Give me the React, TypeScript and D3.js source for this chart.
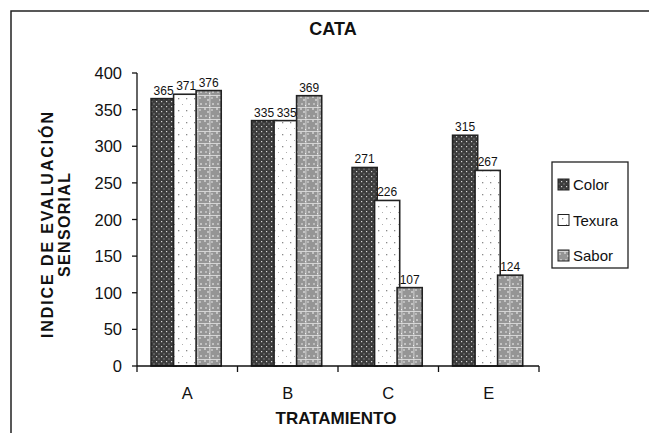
import React from "react";
import * as d3 from "d3";

const categories = ["A", "B", "C", "E"];
const seriesNames = ["Color", "Texura", "Sabor"];
const colorValues = [365, 335, 271, 315];
const texuraValues = [371, 335, 226, 267];
const saborValues = [376, 369, 107, 124];
const yTicks = [0, 50, 100, 150, 200, 250, 300, 350, 400];

const seriesValues = [colorValues, texuraValues, saborValues];
const patternIds = ["patColor", "patTexura", "patSabor"];

const W = 649;
const H = 433;
const plotLeft = 137;
const plotRight = 539;
const plotTop = 73;
const plotBottom = 366;

export default function App() {
  const x = d3.scaleBand<string>().domain(categories).range([plotLeft, plotRight]).padding(0);
  const y = d3.scaleLinear().domain([0, 400]).range([plotBottom, plotTop]);
  const bw = x.bandwidth();
  const barW = bw * 0.25;
  const step = bw * 0.224;
  const offset = bw * 0.14;
  const font = "'Liberation Sans', Arial, sans-serif";

  return (
    <svg width={W} height={H} style={{ position: "absolute", left: 0, top: 0 }} fontFamily={font}>
      <defs>
        <pattern id="patColor" width={5} height={5} patternUnits="userSpaceOnUse">
          <rect width={5} height={5} fill="#3c3c3c" />
          <rect x={1} y={1} width={1.2} height={1.2} fill="#d8d8d8" />
          <rect x={3.5} y={3.5} width={1} height={1} fill="#b5b5b5" />
        </pattern>
        <pattern id="patTexura" width={8} height={12} patternUnits="userSpaceOnUse">
          <rect width={8} height={12} fill="#ffffff" />
          <rect x={2} y={2} width={1.3} height={1.3} fill="#8a8a8a" />
          <rect x={6} y={8} width={1} height={1} fill="#b0b0b0" />
        </pattern>
        <pattern id="patSabor" width={12} height={12} patternUnits="userSpaceOnUse">
          <rect width={12} height={12} fill="#959595" />
          <rect x={0} y={0} width={2} height={2} fill="#c4c4c4" />
          <rect x={3} y={3} width={2} height={2} fill="#c4c4c4" />
          <rect x={7} y={1} width={2} height={2} fill="#bcbcbc" />
          <rect x={1} y={7} width={2} height={2} fill="#bcbcbc" />
          <rect x={8} y={7} width={2} height={2} fill="#c4c4c4" />
          <rect x={5} y={9} width={1} height={1} fill="#ffffff" />
          <rect x={0} y={11} width={12} height={0.8} fill="#e6e6e6" />
          <rect x={5.5} y={0} width={0.8} height={12} fill="#e0e0e0" />
        </pattern>
      </defs>
      <rect x={0} y={0} width={W} height={H} fill="#ffffff" />
      {/* outer chart border */}
      <rect x={11} y={11} width={W + 10} height={H + 10} fill="none" stroke="#222" strokeWidth={1.5} />

      <text x={333} y={35} textAnchor="middle" fontSize={18} fontWeight="bold" fill="#111">CATA</text>

      {/* bars */}
      {categories.map((c, ci) => (
        <g key={c}>
          {seriesValues.map((vals, si) => {
            const bx = (x(c) as number) + offset + si * step;
            const by = y(vals[ci]);
            return (
              <g key={si}>
                <rect x={bx} y={by} width={barW} height={plotBottom - by} fill={`url(#${patternIds[si]})`} stroke="#222" strokeWidth={1.6} />
                <text x={bx + barW / 2} y={by - 4} textAnchor="middle" fontSize={12} fill="#111">{vals[ci]}</text>
              </g>
            );
          })}
        </g>
      ))}

      {/* y axis */}
      <line x1={plotLeft} x2={plotLeft} y1={plotTop} y2={plotBottom} stroke="#111" strokeWidth={1.3} />
      {yTicks.map((t) => (
        <g key={t}>
          <line x1={plotLeft - 5} x2={plotLeft} y1={y(t)} y2={y(t)} stroke="#111" strokeWidth={1.3} />
          <text x={plotLeft - 15} y={y(t) + 6} textAnchor="end" fontSize={16.5} fill="#111">{t}</text>
        </g>
      ))}

      {/* x axis */}
      <line x1={plotLeft} x2={plotRight} y1={plotBottom} y2={plotBottom} stroke="#111" strokeWidth={1.3} />
      {[...categories.map((c) => x(c) as number), plotRight].map((px, i) => (
        <line key={i} x1={px} x2={px} y1={plotBottom} y2={plotBottom + 6} stroke="#111" strokeWidth={1.3} />
      ))}
      {categories.map((c) => (
        <text key={c} x={(x(c) as number) + bw / 2} y={399} textAnchor="middle" fontSize={16.5} fill="#111">{c}</text>
      ))}

      <text x={336} y={424} textAnchor="middle" fontSize={17} fontWeight="bold" fill="#111">TRATAMIENTO</text>

      {/* y title */}
      <g transform="translate(53,225) rotate(-90)">
        <text x={0} y={0} textAnchor="middle" fontSize={16} fontWeight="bold" fill="#111" textLength={226} lengthAdjust="spacing">INDICE DE EVALUACIÓN</text>
        <text x={0} y={16.5} textAnchor="middle" fontSize={16} fontWeight="bold" fill="#111" textLength={104} lengthAdjust="spacing">SENSORIAL</text>
      </g>

      {/* legend */}
      <rect x={552} y={162} width={76} height={106} fill="#ffffff" stroke="#222" strokeWidth={1.3} />
      {seriesNames.map((s, i) => {
        const ly = 184.5 + i * 35.5;
        return (
          <g key={s}>
            <rect x={558} y={ly - 5.5} width={11} height={11} fill={`url(#${patternIds[i]})`} stroke="#222" strokeWidth={1} />
            <text x={573} y={ly + 5.5} fontSize={15} fill="#111">{s}</text>
          </g>
        );
      })}
    </svg>
  );
}
